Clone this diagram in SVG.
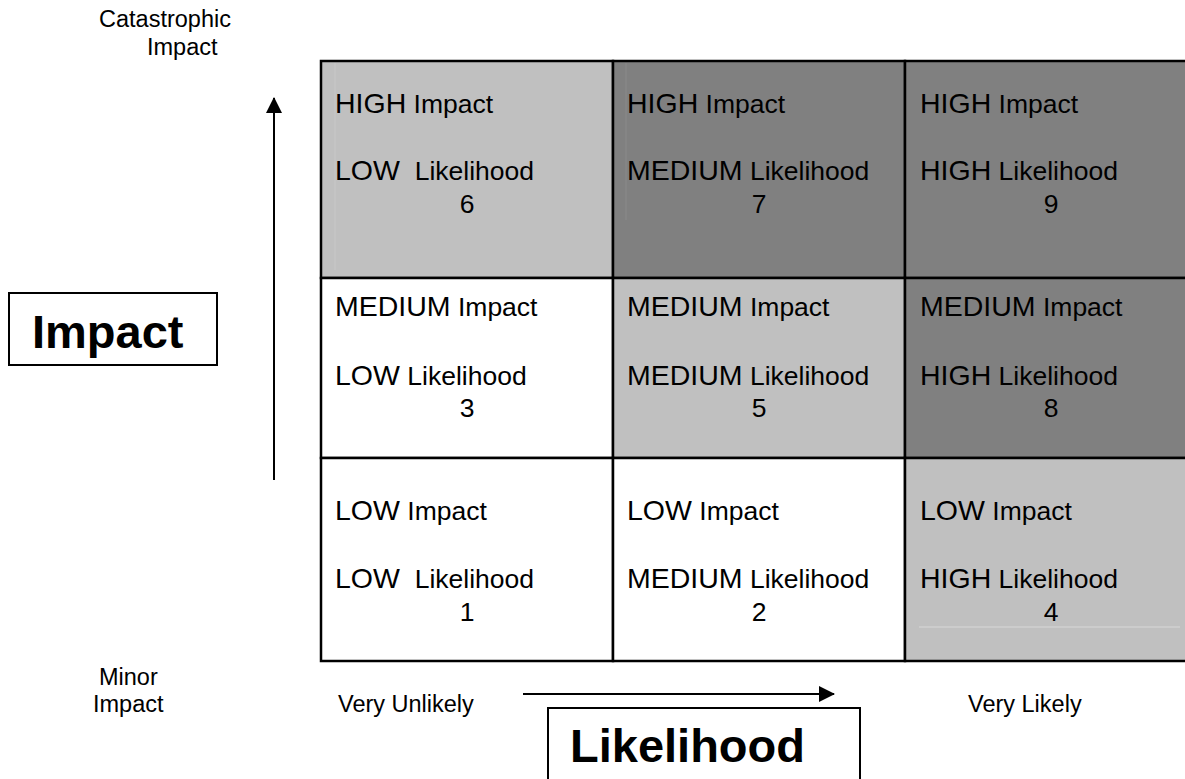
<svg xmlns="http://www.w3.org/2000/svg" width="1185" height="779" viewBox="0 0 1185 779">
<style>
text{font-family:"Liberation Sans",Arial,sans-serif;fill:#000}
.c{font-size:26.5px}
.u{font-size:28.5px}
.n{font-size:26.5px;text-anchor:middle}
.s{font-size:23.5px}
.b{font-size:47px;font-weight:bold}
.cell{stroke:#000;stroke-width:2.5}
.lt{fill:#c0c0c0}
.dk{fill:#808080}
.wh{fill:#fff}
.box{fill:#fff;stroke:#000;stroke-width:2}
.ax{stroke:#000;stroke-width:2;fill:none}
.faint{stroke-width:1;fill:none}
</style>
<defs>
<marker id="ah" markerUnits="userSpaceOnUse" markerWidth="16" markerHeight="16" refX="15" refY="8" orient="auto">
<path d="M0,0 L16,8 L0,16 Z" fill="#000"/>
</marker>
</defs>
<rect width="1185" height="779" fill="#fff"/>

<g id="axis-labels">
<text class="s" x="99" y="27">Catastrophic</text>
<text class="s" x="147" y="55">Impact</text>
<text class="s" x="99" y="685">Minor</text>
<text class="s" x="93" y="712">Impact</text>
<text class="s" x="338" y="712">Very Unlikely</text>
<text class="s" x="968" y="712">Very Likely</text>
</g>

<g id="cell-6">
<rect class="cell lt" x="321" y="61" width="292" height="217"/>
<line class="faint" x1="335" y1="63" x2="335" y2="270" stroke="#c8c8c8"/>
<text class="c" x="335" y="113"><tspan class="u">HIGH</tspan> Impact</text>
<text class="c" x="335" y="180" xml:space="preserve"><tspan class="u">LOW</tspan>  Likelihood</text>
<text class="n" x="467" y="213">6</text>
</g>
<g id="cell-7">
<rect class="cell dk" x="613" y="61" width="292" height="217"/>
<line class="faint" x1="626" y1="63" x2="626" y2="220" stroke="#8a8a8a"/>
<text class="c" x="627" y="113"><tspan class="u">HIGH</tspan> Impact</text>
<text class="c" x="627" y="180"><tspan class="u">MEDIUM</tspan> Likelihood</text>
<text class="n" x="759" y="213">7</text>
</g>
<g id="cell-9">
<rect class="cell dk" x="905" y="61" width="292" height="217"/>
<text class="c" x="920" y="113"><tspan class="u">HIGH</tspan> Impact</text>
<text class="c" x="920" y="180"><tspan class="u">HIGH</tspan> Likelihood</text>
<text class="n" x="1051" y="213">9</text>
</g>

<g id="cell-3">
<rect class="cell wh" x="321" y="278" width="292" height="180"/>
<text class="c" x="335" y="316"><tspan class="u">MEDIUM</tspan> Impact</text>
<text class="c" x="335" y="385"><tspan class="u">LOW</tspan> Likelihood</text>
<text class="n" x="467" y="417">3</text>
</g>
<g id="cell-5">
<rect class="cell lt" x="613" y="278" width="292" height="180"/>
<text class="c" x="627" y="316"><tspan class="u">MEDIUM</tspan> Impact</text>
<text class="c" x="627" y="385"><tspan class="u">MEDIUM</tspan> Likelihood</text>
<text class="n" x="759" y="417">5</text>
</g>
<g id="cell-8">
<rect class="cell dk" x="905" y="278" width="292" height="180"/>
<text class="c" x="920" y="316"><tspan class="u">MEDIUM</tspan> Impact</text>
<text class="c" x="920" y="385"><tspan class="u">HIGH</tspan> Likelihood</text>
<text class="n" x="1051" y="417">8</text>
</g>

<g id="cell-1">
<rect class="cell wh" x="321" y="458" width="292" height="203"/>
<text class="c" x="335" y="520"><tspan class="u">LOW</tspan> Impact</text>
<text class="c" x="335" y="588" xml:space="preserve"><tspan class="u">LOW</tspan>  Likelihood</text>
<text class="n" x="467" y="621">1</text>
</g>
<g id="cell-2">
<rect class="cell wh" x="613" y="458" width="292" height="203"/>
<text class="c" x="627" y="520"><tspan class="u">LOW</tspan> Impact</text>
<text class="c" x="627" y="588"><tspan class="u">MEDIUM</tspan> Likelihood</text>
<text class="n" x="759" y="621">2</text>
</g>
<g id="cell-4">
<rect class="cell lt" x="905" y="458" width="292" height="203"/>
<line class="faint" x1="919" y1="627" x2="1180" y2="627" stroke="#d8d8d8"/>
<text class="c" x="920" y="520"><tspan class="u">LOW</tspan> Impact</text>
<text class="c" x="920" y="588"><tspan class="u">HIGH</tspan> Likelihood</text>
<text class="n" x="1051" y="621">4</text>
</g>

<g id="impact-box">
<rect class="box" x="9" y="293" width="208" height="72"/>
<text class="b" x="32" y="348">Impact</text>
</g>
<g id="likelihood-box">
<rect class="box" x="548" y="708" width="312" height="100"/>
<text class="b" x="570" y="762">Likelihood</text>
</g>

<g id="connectors">
<line class="ax" x1="274" y1="480" x2="274" y2="98" marker-end="url(#ah)"/>
<line class="ax" x1="523" y1="694" x2="834" y2="694" marker-end="url(#ah)"/>
</g>
</svg>
